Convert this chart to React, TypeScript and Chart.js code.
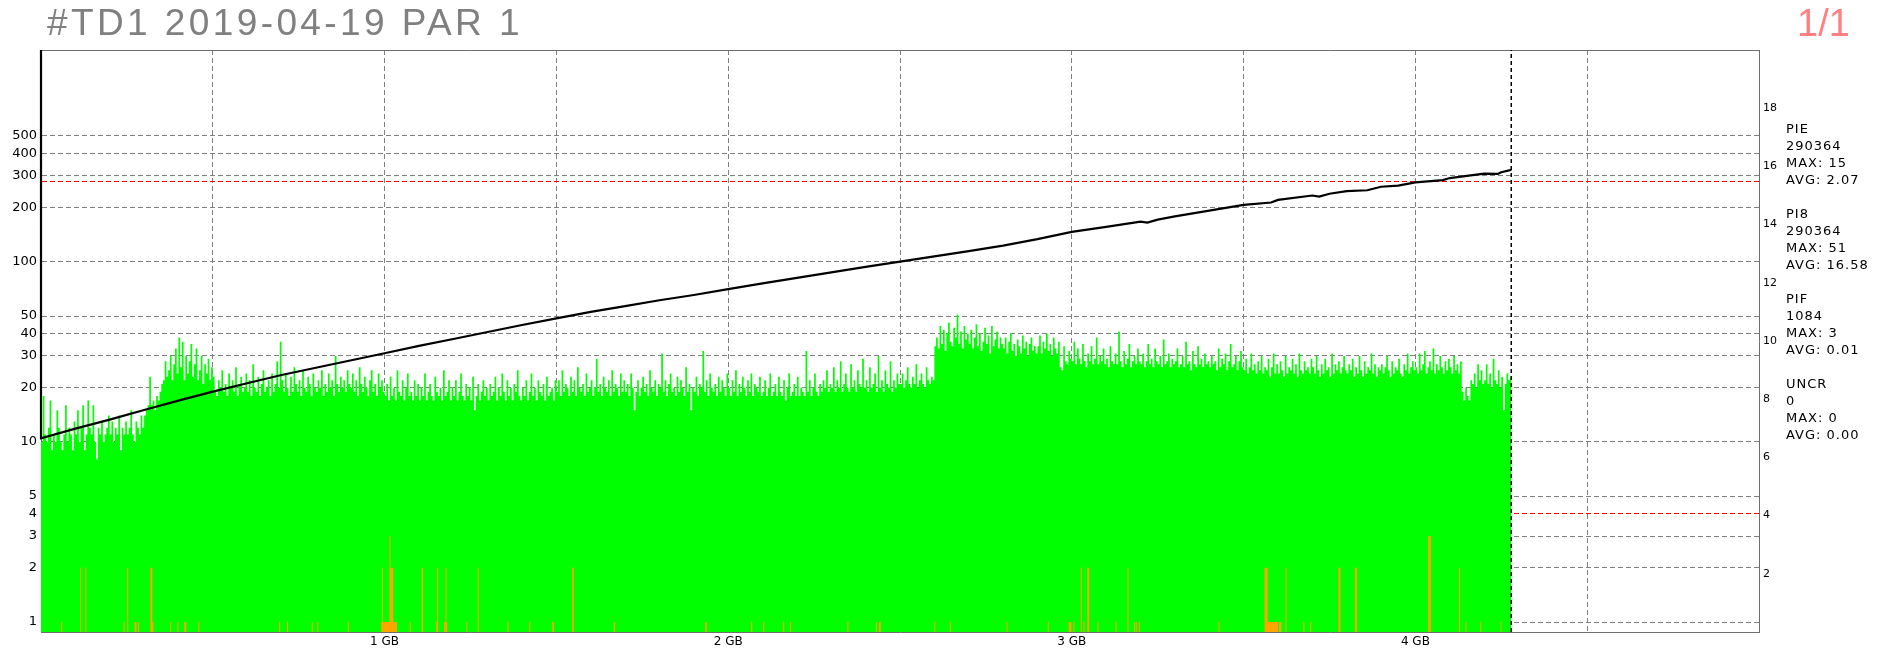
import React, { useEffect, useRef } from 'react';
import { Chart, registerables } from 'chart.js';

Chart.register(...registerables);

// ---------- texts ----------
const titleText = '#TD1 2019-04-19 PAR 1';
const pageText = '1/1';
const statNames = ['PIE', 'PI8', 'PIF', 'UNCR'];
const statTotals = ['290364', '290364', '1084', '0'];
const statMax = ['15', '51', '3', '0'];
const statAvg = ['2.07', '16.58', '0.01', '0.00'];

// ---------- axes ----------
const Y_MIN = 0.88;
const Y_MAX = 1500;
const leftTicks = [1, 2, 3, 4, 5, 10, 20, 30, 40, 50, 100, 200, 300, 400, 500];
const limitLines = [4, 280];
const X_MAX = 5;
const X_STEP = 0.5;
const SPEED_MAX = 20;
const dataEnd = 4.279;

// ---------- PI8 (green), one value every 0.005 GB ----------
const pi8Step = 0.005;
const pi8Values = [
  10, 18, 11, 10, 12, 17, 9, 11, 10, 15, 12, 10, 9, 11, 16, 10, 12, 11, 9, 13,
  11, 15, 10, 12, 16, 9, 11, 17, 12, 11, 16, 10, 8, 12, 11, 13, 10, 11, 12, 14,
  11, 13, 10, 12, 11, 14, 9, 12, 11, 13, 11, 12, 15, 11, 10, 13, 12, 11, 14, 12,
  14, 15, 16, 23, 16, 17, 15, 18, 17, 19, 21, 22, 28, 23, 25, 30, 22, 27, 33, 24,
  38, 26, 36, 22, 30, 24, 28, 35, 23, 27, 33, 22, 25, 30, 21, 27, 24, 29, 22, 26,
  23, 19, 18, 22, 20, 25, 19, 21, 18, 24, 20, 22, 19, 26, 18, 21, 23, 19, 20, 24,
  19, 22, 18, 27, 20, 19, 23, 18, 21, 25, 19, 20, 22, 18, 24, 19, 21, 28, 20, 36,
  22, 19, 24, 20, 18, 23, 19, 26, 21, 19, 22, 18, 25, 20, 19, 23, 21, 18, 24, 20,
  19, 22, 20, 25, 18, 21, 19, 24, 20, 22, 18, 30, 21, 19, 23, 20, 22, 19, 25, 21,
  20, 24, 19, 22, 18, 26, 21, 19, 23, 20, 18, 22, 25, 19, 21, 18, 24, 20, 22, 19,
  18, 21, 17, 23, 18, 20, 17, 25, 19, 18, 22, 17, 20, 24, 18, 19, 17, 22, 18, 21,
  17, 20, 18, 24, 17, 19, 21, 18, 17, 23, 19, 18, 20, 17, 25, 18, 19, 22, 17, 20,
  18, 22, 17, 19, 24, 18, 17, 21, 18, 20, 17, 23, 15, 18, 21, 17, 19, 22, 18, 20,
  17, 21, 18, 19, 23, 17, 20, 18, 24, 19, 17, 22, 18, 20, 17, 21, 19, 25, 18, 17,
  20, 18, 22, 17, 19, 24, 18, 20, 17, 22, 19, 18, 21, 17, 23, 18, 19, 20, 17, 22,
  19, 22, 18, 25, 19, 21, 20, 18, 23, 19, 22, 18, 26, 20, 19, 21, 18, 24, 19, 20,
  22, 18, 20, 29, 19, 21, 18, 23, 20, 19, 22, 18, 25, 19, 21, 20, 18, 24, 19, 22,
  19, 21, 18, 24, 20, 15, 19, 22, 18, 20, 23, 19, 21, 18, 25, 20, 19, 22, 18, 21,
  20, 31, 19, 22, 18, 21, 24, 19, 20, 18, 23, 19, 22, 20, 18, 26, 19, 21, 15, 20,
  19, 23, 18, 21, 20, 32, 19, 22, 18, 24, 20, 19, 21, 18, 23, 19, 22, 20, 18, 24,
  20, 18, 22, 19, 25, 18, 21, 19, 23, 20, 18, 22, 19, 24, 18, 21, 20, 19, 23, 18,
  19, 22, 18, 20, 24, 18, 19, 21, 18, 23, 19, 18, 22, 17, 20, 24, 18, 19, 21, 18,
  23, 18, 20, 19, 18, 32, 19, 22, 18, 20, 24, 19, 18, 21, 19, 22, 20, 25, 19, 21,
  20, 26, 19, 22, 20, 28, 19, 21, 24, 20, 19, 27, 20, 22, 19, 25, 21, 20, 29, 20,
  22, 19, 26, 20, 21, 24, 19, 30, 20, 22, 19, 25, 21, 20, 28, 19, 22, 20, 24, 21,
  21, 24, 20, 22, 26, 21, 20, 23, 21, 27, 20, 22, 24, 21, 20, 26, 22, 21, 23, 22,
  34, 38, 33, 44, 35, 42, 32, 40, 46, 36, 34, 43, 38, 51, 35, 41, 33, 44, 37, 40,
  35, 42, 33, 38, 45, 34, 40, 32, 36, 43, 35, 39, 31, 44, 34, 37, 41, 33, 38, 35,
  33, 38, 31, 36, 40, 32, 35, 30, 37, 34, 31, 39, 33, 36, 30, 35, 38, 32, 34, 31,
  34, 39, 31, 36, 33, 40, 32, 35, 30, 38, 33, 31, 36, 26, 25, 34, 28, 27, 32, 29,
  28, 36, 27, 33, 29, 27, 35, 28, 26, 31, 28, 34, 27, 29, 38, 27, 30, 28, 33, 27,
  29, 26, 34, 28, 27, 31, 27, 41, 28, 26, 32, 27, 29, 35, 26, 28, 30, 27, 33, 28,
  27, 31, 26, 28, 35, 27, 29, 26, 33, 28, 27, 30, 26, 37, 27, 28, 31, 26, 29, 27,
  28, 33, 26, 27, 30, 26, 36, 27, 28, 25, 32, 27, 26, 34, 27, 29, 26, 31, 27, 28,
  26, 30, 27, 28, 25, 33, 26, 29, 27, 31, 25, 28, 35, 26, 27, 30, 25, 28, 32, 26,
  25, 29, 24, 26, 31, 25, 27, 24, 28, 25, 30, 24, 26, 25, 29, 23, 26, 31, 24, 27,
  24, 28, 25, 23, 30, 24, 26, 25, 29, 24, 27, 23, 31, 25, 24, 28, 25, 26, 24, 29,
  26, 24, 30, 25, 23, 27, 24, 29, 25, 26, 23, 31, 24, 27, 25, 28, 24, 26, 30, 25,
  24, 27, 25, 29, 23, 26, 24, 30, 25, 23, 28, 24, 26, 25, 31, 24, 27, 23, 26, 25,
  27, 24, 26, 30, 25, 23, 28, 24, 26, 25, 29, 24, 23, 27, 25, 31, 24, 26, 28, 25,
  26, 24, 31, 25, 27, 32, 24, 26, 28, 25, 33, 24, 27, 25, 30, 26, 24, 28, 25, 29,
  26, 24, 30, 25, 27, 24, 28, 19, 17, 20, 18, 17, 22, 21, 24, 20, 27, 22, 25, 21,
  22, 27, 21, 24, 20, 29, 22, 21, 25, 20, 23, 15, 21, 24, 22, 23,
];

// ---------- PIF (orange): start (GB), length (GB), value ----------
const pifPos = [
  0.059, 0.114, 0.129, 0.240, 0.251, 0.272, 0.282, 0.318, 0.324, 0.376, 0.397, 0.417, 0.458,
  0.693, 0.716, 0.788, 0.804, 0.893,
  0.990, 0.992, 0.995, 1.014, 1.017, 1.025,
  1.073, 1.108, 1.150, 1.153, 1.173, 1.177, 1.180, 1.238, 1.271, 1.358, 1.421, 1.488, 1.546,
  1.667, 1.933, 2.067, 2.102, 2.160, 2.180, 2.347, 2.430, 2.439, 2.600, 2.645, 2.810, 2.930,
  2.991, 3.005, 3.026, 3.034, 3.045, 3.075, 3.127, 3.162, 3.181, 3.186, 3.195, 3.427,
  3.561, 3.570, 3.603, 3.622, 3.674, 3.694, 3.776, 3.824, 4.037, 4.127, 4.146, 4.189, 4.248,
];
const pifLen = [
  0.003, 0.003, 0.003, 0.003, 0.003, 0.006, 0.003, 0.006, 0.003, 0.003, 0.003, 0.006, 0.003,
  0.003, 0.003, 0.003, 0.003, 0.003,
  0.002, 0.003, 0.019, 0.003, 0.008, 0.011,
  0.003, 0.004, 0.003, 0.003, 0.004, 0.003, 0.002, 0.003, 0.003, 0.003, 0.003, 0.005, 0.005,
  0.004, 0.005, 0.003, 0.003, 0.003, 0.003, 0.003, 0.003, 0.005, 0.003, 0.003, 0.003, 0.003,
  0.008, 0.003, 0.003, 0.003, 0.006, 0.003, 0.003, 0.003, 0.003, 0.003, 0.003, 0.003,
  0.009, 0.030, 0.007, 0.003, 0.003, 0.003, 0.006, 0.006, 0.008, 0.003, 0.003, 0.003, 0.003,
];
const pifVal = [
  1, 2, 2, 1, 2, 1, 1, 2, 1, 1, 1, 1, 1,
  1, 1, 1, 1, 1,
  1, 2, 1, 3, 2, 1,
  1, 2, 1, 2, 1, 2, 1, 1, 2, 1, 1, 1, 2,
  1, 1, 1, 1, 1, 1, 1, 1, 1, 1, 1, 1, 1,
  1, 1, 2, 1, 2, 1, 1, 2, 1, 1, 1, 1,
  2, 1, 1, 2, 1, 1, 2, 2, 3, 2, 1, 1, 1,
];

// ---------- read speed (black, right axis) ----------
const speedPos = [
  0, 0, 0.1, 0.2, 0.3, 0.4, 0.5, 0.6, 0.7, 0.8, 0.9, 1.0, 1.1, 1.2, 1.3, 1.4, 1.5, 1.6,
  1.7, 1.8, 1.9, 2.0, 2.1, 2.2, 2.3, 2.4, 2.5, 2.6, 2.7, 2.8, 2.9, 3.0, 3.1, 3.2, 3.22,
  3.25, 3.3, 3.4, 3.5, 3.58, 3.6, 3.7, 3.72, 3.75, 3.8, 3.86, 3.9, 3.95, 4.0, 4.08, 4.1,
  4.2, 4.24, 4.25, 4.279,
];
const speedVal = [
  20, 6.66, 6.99, 7.3, 7.63, 7.95, 8.26, 8.55, 8.83, 9.08, 9.33, 9.58, 9.83, 10.07, 10.31,
  10.55, 10.78, 11.0, 11.2, 11.4, 11.58, 11.78, 11.98, 12.17, 12.36, 12.55, 12.73, 12.91,
  13.09, 13.28, 13.5, 13.75, 13.92, 14.1, 14.07, 14.17, 14.28, 14.48, 14.68, 14.76, 14.85,
  15.0, 14.96, 15.06, 15.15, 15.18, 15.3, 15.34, 15.45, 15.53, 15.6, 15.75, 15.74, 15.8,
  15.88,
];

const GRID = '#808080';
const LIMIT = '#ff0000';
const AXIS_FONT = 'DejaVu Sans';

export default function App() {
  const ref = useRef<HTMLCanvasElement | null>(null);

  useEffect(() => {
    document.body.style.margin = '0';
    document.body.style.background = '#ffffff';
    const canvas = ref.current;
    if (!canvas) return;

    const pi8Pts = pi8Values.map((v, i) => ({ x: i * pi8Step, y: v }));
    pi8Pts.push({ x: dataEnd, y: pi8Values[pi8Values.length - 1] });

    const pifPts: { x: number; y: number }[] = [{ x: 0, y: Y_MIN }];
    pifPos.forEach((p, i) => {
      pifPts.push({ x: p, y: pifVal[i] });
      pifPts.push({ x: p + pifLen[i], y: Y_MIN });
    });

    const speedPts = speedPos.map((p, i) => ({ x: p, y: speedVal[i] }));

    const allLeft = [...leftTicks, ...limitLines.filter((v) => !leftTicks.includes(v))].sort(
      (a, b) => a - b,
    );

    const chart = new Chart(canvas, {
      type: 'line',
      data: {
        datasets: [
          {
            label: 'speed',
            data: speedPts,
            yAxisID: 'y2',
            borderColor: '#000000',
            borderWidth: 2.2,
            pointRadius: 0,
            fill: false,
            tension: 0,
            clip: false,
            order: 0,
          },
          {
            label: 'end',
            data: [
              { x: dataEnd, y: Y_MIN },
              { x: dataEnd, y: Y_MAX },
            ],
            yAxisID: 'y',
            borderColor: '#000000',
            borderWidth: 1.5,
            borderDash: [4, 3],
            pointRadius: 0,
            fill: false,
            order: 1,
          },
          {
            label: 'PIF',
            data: pifPts,
            yAxisID: 'y',
            stepped: true,
            borderColor: 'rgba(0,0,0,0)',
            borderWidth: 0,
            backgroundColor: '#ffa500',
            pointRadius: 0,
            fill: 'start',
            order: 2,
          },
          {
            label: 'PI8',
            data: pi8Pts,
            yAxisID: 'y',
            stepped: true,
            borderColor: 'rgba(0,0,0,0)',
            borderWidth: 0,
            backgroundColor: '#00ff00',
            pointRadius: 0,
            fill: 'start',
            order: 3,
          },
        ],
      },
      options: {
        animation: false,
        responsive: false,
        devicePixelRatio: 1,
        events: [],
        layout: { padding: { top: 50, left: 0, right: 0, bottom: 0 } },
        plugins: {
          legend: { display: false },
          tooltip: { enabled: false },
          title: { display: false },
        },
        scales: {
          x: {
            type: 'linear',
            position: 'bottom',
            min: 0,
            max: X_MAX,
            afterFit: (s: any) => {
              s.height = 18;
            },
            ticks: {
              stepSize: X_STEP,
              autoSkip: false,
              maxRotation: 0,
              padding: 3,
              color: '#000000',
              font: { family: AXIS_FONT, size: 12 },
              callback: (v: any) => {
                const n = Number(v);
                return Number.isInteger(n) && n > 0 && n < X_MAX ? `${n} GB` : '';
              },
            },
            grid: {
              drawTicks: false,
              lineWidth: 1,
              color: (c: any) => {
                const v = c.tick ? c.tick.value : -1;
                return v <= 0 || v >= X_MAX ? 'rgba(0,0,0,0)' : GRID;
              },
            },
            border: { display: true, color: '#6e6e6e', width: 1, dash: [5, 3] },
          },
          xTop: {
            type: 'linear',
            position: 'top',
            min: 0,
            max: X_MAX,
            afterFit: (s: any) => {
              s.height = 0;
            },
            ticks: { display: false },
            grid: { display: false, drawTicks: false },
            border: { display: true, color: '#6e6e6e', width: 1 },
          },
          y: {
            type: 'logarithmic',
            position: 'left',
            min: Y_MIN,
            max: Y_MAX,
            afterFit: (s: any) => {
              s.width = 41;
            },
            afterBuildTicks: (s: any) => {
              s.ticks = allLeft.map((v) => ({ value: v }));
            },
            ticks: {
              autoSkip: false,
              padding: 4,
              color: '#000000',
              font: { family: AXIS_FONT, size: 13 },
              callback: (v: any) => (leftTicks.includes(Number(v)) ? String(v) : ''),
            },
            grid: {
              drawTicks: false,
              lineWidth: 1,
              color: (c: any) => {
                const v = c.tick ? c.tick.value : -1;
                return limitLines.includes(v) ? LIMIT : GRID;
              },
            },
            border: { display: true, color: '#6e6e6e', width: 1, dash: [5, 3] },
          },
          y2: {
            type: 'linear',
            position: 'right',
            min: 0,
            max: SPEED_MAX,
            afterFit: (s: any) => {
              s.width = 141;
            },
            ticks: {
              stepSize: 2,
              autoSkip: false,
              padding: 4,
              color: '#000000',
              font: { family: AXIS_FONT, size: 11 },
              callback: (v: any) => {
                const n = Number(v);
                return n > 0 && n < SPEED_MAX ? String(n) : '';
              },
            },
            grid: { display: false, drawTicks: false },
            border: { display: true, color: '#6e6e6e', width: 1 },
          },
        },
      },
    });

    return () => {
      chart.destroy();
    };
  }, []);

  const statLines: string[] = [];
  statNames.forEach((n, i) => {
    if (i > 0) statLines.push('');
    statLines.push(n, statTotals[i], `MAX: ${statMax[i]}`, `AVG: ${statAvg[i]}`);
  });

  return (
    <div style={{ position: 'relative', width: 1900, height: 650, background: '#fff', overflow: 'hidden' }}>
      <canvas ref={ref} width={1900} height={650} style={{ display: 'block', width: 1900, height: 650 }} />
      <div
        style={{
          position: 'absolute',
          left: 47,
          top: 5,
          fontFamily: 'Liberation Sans, Arial, sans-serif',
          fontSize: 37,
          lineHeight: '36px',
          letterSpacing: '3.4px',
          color: '#808080',
          whiteSpace: 'nowrap',
        }}
      >
        {titleText}
      </div>
      <div
        style={{
          position: 'absolute',
          left: 1797,
          top: 5,
          fontFamily: 'Liberation Sans, Arial, sans-serif',
          fontSize: 38,
          lineHeight: '36px',
          color: '#ff8080',
          whiteSpace: 'nowrap',
        }}
      >
        {pageText}
      </div>
      <div
        style={{
          position: 'absolute',
          left: 1786,
          top: 120,
          fontFamily: 'DejaVu Sans, Verdana, sans-serif',
          fontSize: 13,
          letterSpacing: '1px',
          color: '#000',
        }}
      >
        {statLines.map((l, i) => (
          <div key={i} style={{ height: 17, lineHeight: '17px', whiteSpace: 'pre' }}>
            {l}
          </div>
        ))}
      </div>
    </div>
  );
}
